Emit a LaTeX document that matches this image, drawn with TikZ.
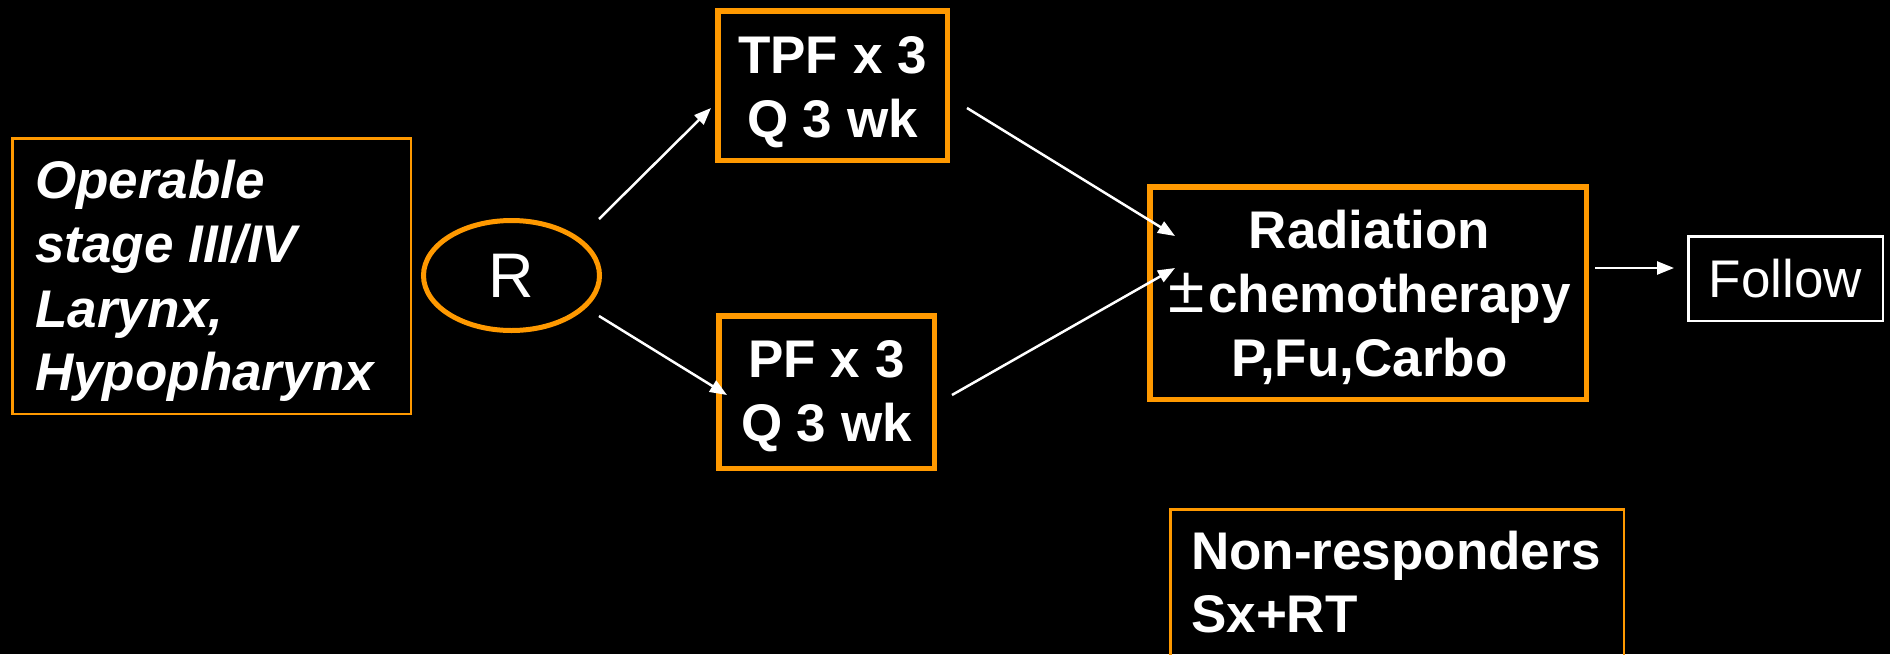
\documentclass[tikz,border=0pt]{standalone}
\usepackage{fontspec}
\setmainfont{Liberation Sans}
\usetikzlibrary{arrows.meta,shapes.geometric}
\definecolor{ppor}{HTML}{FF9900}
\begin{document}
\begin{tikzpicture}[x=1pt,y=-1pt,
  every node/.style={font=\fontsize{53}{64}\selectfont, text=white},
  thickbox/.style={draw=ppor,line width=5.5pt,rectangle,inner sep=0pt},
  thinbox/.style={draw=ppor,line width=2.5pt,rectangle,inner sep=0pt},
  whitebox/.style={draw=white,line width=2.5pt,rectangle,inner sep=0pt},
  txt/.style={anchor=base,inner sep=0pt,font=\fontsize{53}{64}\selectfont\bfseries},
  txtl/.style={anchor=base west,inner sep=0pt,font=\fontsize{53}{64}\selectfont\bfseries},
  conn/.style={draw=white,line width=2.5pt,-{Triangle[length=17pt,width=13pt]}}]
\fill[black] (0,0) rectangle (1890,654);
\useasboundingbox (0,0) rectangle (1890,654);

% left box
\node[thinbox,minimum width=398.5pt,minimum height=275.5pt] (src) at (211.5,276) {};
\node[txtl,font=\fontsize{53}{64}\selectfont\bfseries\itshape] (s1) at (35,198) {Operable};
\node[txtl,font=\fontsize{53}{64}\selectfont\bfseries\itshape] (s2) at (35,262) {stage III/IV};
\node[txtl,font=\fontsize{53}{64}\selectfont\bfseries\itshape] (s3) at (35,327) {Larynx,};
\node[txtl,font=\fontsize{53}{64}\selectfont\bfseries\itshape] (s4) at (35,390) {Hypopharynx};

% R ellipse
\node[ellipse,draw=ppor,line width=5pt,inner sep=0pt,minimum width=176pt,minimum height=110pt,
      font=\fontsize{63}{70}\selectfont] (R) at (511.5,275.5) {R};

% TPF box
\node[thickbox,minimum width=229.5pt,minimum height=149.5pt] (tpf) at (832.5,85.5) {};
\node[txt] (t1) at (832.5,73) {TPF x 3};
\node[txt] (t2) at (832.5,137) {Q 3 wk};

% PF box
\node[thickbox,minimum width=215.5pt,minimum height=152.5pt] (pf) at (826.5,392) {};
\node[txt] (p1) at (826.5,377) {PF x 3};
\node[txt] (p2) at (826.5,441) {Q 3 wk};

% Radiation box
\node[thickbox,minimum width=436.5pt,minimum height=212.5pt] (rad) at (1368,293) {};
\node[txt] (r1) at (1369.5,248) {Radiation};
\node[txt] (r2) at (1369.5,312) {{\mdseries\fontsize{66}{64}\selectfont\char"00B1}\kern4pt chemotherapy};
\node[txt] (r3) at (1369.5,376) {P,Fu,Carbo};

% Follow box
\node[whitebox,minimum width=194.5pt,minimum height=84.5pt] (fol) at (1785.5,278.5) {Follow};

% Non-responders box
\node[thinbox,minimum width=453.5pt,minimum height=170pt] (nr) at (1397,594.25) {};
\node[txtl] (n1) at (1191,569) {Non-responders};
\node[txtl] (n2) at (1191,632) {Sx+RT};

% connectors
\draw[conn] ([xshift=87.5pt,yshift=56.5pt]R.center) -- ([xshift=-4pt,yshift=-22.5pt]tpf.west);
\draw[conn] ([xshift=87.5pt,yshift=-40.5pt]R.center) -- ([xshift=11pt,yshift=-3pt]pf.west);
\draw[conn] ([xshift=17pt,yshift=-22.5pt]tpf.east) -- ([xshift=28pt,yshift=57pt]rad.west);
\draw[conn] ([xshift=15pt,yshift=-3pt]pf.east) -- ([xshift=28pt,yshift=25pt]rad.west);
\draw[conn] ([xshift=6pt,yshift=25pt]rad.east) -- ([xshift=-13pt,yshift=10.5pt]fol.west);
\end{tikzpicture}
\end{document}
